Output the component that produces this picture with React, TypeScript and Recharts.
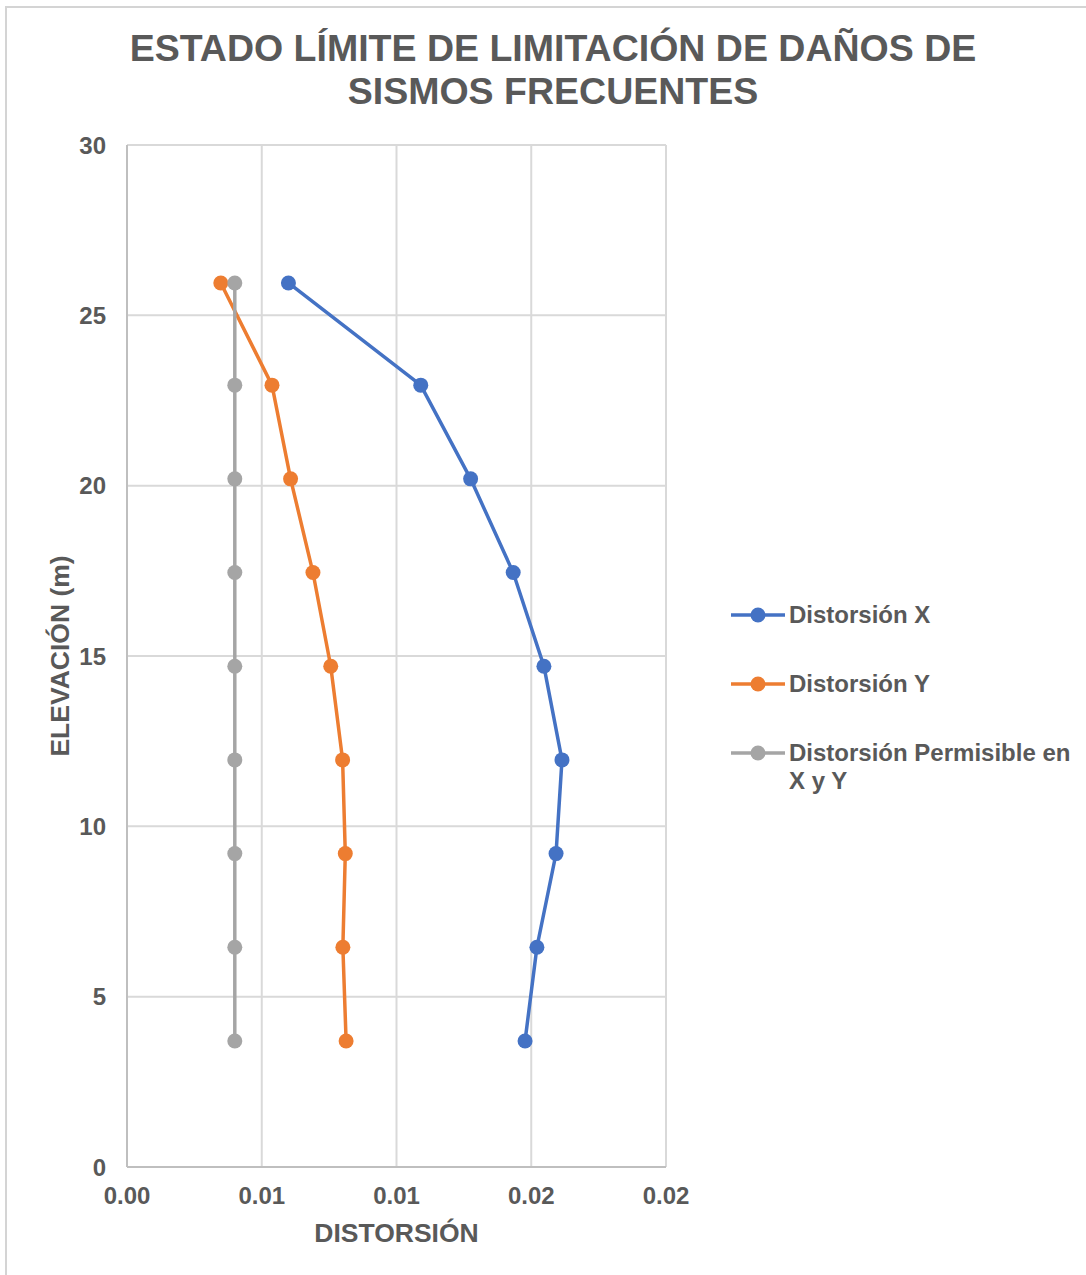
import { ScatterChart, Scatter, XAxis, YAxis, CartesianGrid } from "recharts";

const elevations = [3.7, 6.45, 9.2, 11.95, 14.7, 17.45, 20.2, 22.95, 25.95];
const distX = [0.01477, 0.01521, 0.01592, 0.01614, 0.01547, 0.01433, 0.01275, 0.0109, 0.00599];
const distY = [0.00813, 0.00801, 0.0081, 0.008, 0.00756, 0.0069, 0.00607, 0.00538, 0.00348];
const distPerm = [0.004, 0.004, 0.004, 0.004, 0.004, 0.004, 0.004, 0.004, 0.004];

const xTicks = [0, 0.005, 0.01, 0.015, 0.02];
const yTicks = [0, 5, 10, 15, 20, 25, 30];

const series = [
  { name: "Distorsión X", values: distX, color: "#4472C4" },
  { name: "Distorsión Y", values: distY, color: "#ED7D31" },
  { name: "Distorsión Permisible en X y Y", values: distPerm, color: "#A5A5A5" },
];

const FONT = '"Liberation Sans", Arial, sans-serif';
const TEXT = "#595959";

const toPoints = (values: number[]) =>
  values.map((v, i) => ({ x: v, y: elevations[i] }));

// excel style rounding (half up) for the tick labels
const fmtX = (v: number) => (Math.round(v * 100 + 1e-9) / 100).toFixed(2);

const Dot = (color: string) => (p: any) => (
  <circle cx={p.cx} cy={p.cy} r={7.5} fill={color} />
);

export default function App() {
  return (
    <div
      style={{
        position: "absolute",
        left: 0,
        top: 0,
        width: 1086,
        height: 1275,
        overflow: "hidden",
        background: "#fff",
        fontFamily: FONT,
      }}
    >
      <div
        style={{
          position: "absolute",
          left: 20,
          top: 27,
          width: 1066,
          textAlign: "center",
          fontSize: 37.5,
          lineHeight: "43px",
          fontWeight: "bold",
          color: TEXT,
        }}
      >
        ESTADO LÍMITE DE LIMITACIÓN DE DAÑOS DE
        <br />
        SISMOS FRECUENTES
      </div>

      <div style={{ position: "absolute", left: 0, top: 0 }}>
        <ScatterChart
          width={1086}
          height={1275}
          margin={{ top: 145, right: 420, bottom: 28, left: 47 }}
        >
          <CartesianGrid stroke="#d9d9d9" strokeWidth={2} />
          <XAxis
            type="number"
            dataKey="x"
            domain={[0, 0.02]}
            ticks={xTicks}
            tickFormatter={fmtX}
            height={80}
            tickLine={false}
            tickSize={0}
            tickMargin={20}
            axisLine={{ stroke: "#bfbfbf", strokeWidth: 2 }}
            tick={{ fill: TEXT, fontSize: 24, fontWeight: "bold", fontFamily: FONT }}
            label={{
              value: "DISTORSIÓN",
              position: "insideBottom",
              offset: 5,
              fill: TEXT,
              fontSize: 26.5,
              fontWeight: "bold",
              fontFamily: FONT,
            }}
          />
          <YAxis
            type="number"
            dataKey="y"
            domain={[0, 30]}
            ticks={yTicks}
            width={80}
            tickLine={false}
            tickSize={0}
            tickMargin={21}
            axisLine={{ stroke: "#bfbfbf", strokeWidth: 2 }}
            tick={{ fill: TEXT, fontSize: 24, fontWeight: "bold", fontFamily: FONT }}
            label={{
              value: "ELEVACIÓN (m)",
              angle: -90,
              position: "insideLeft",
              offset: 13,
              fill: TEXT,
              fontSize: 26.5,
              fontWeight: "bold",
              fontFamily: FONT,
              style: { textAnchor: "middle" },
            }}
          />
          {series.map((s) => (
            <Scatter
              key={s.name}
              name={s.name}
              data={toPoints(s.values)}
              fill={s.color}
              line={{ stroke: s.color, strokeWidth: 3.5 }}
              lineType="joint"
              shape={Dot(s.color)}
              isAnimationActive={false}
            />
          ))}
        </ScatterChart>
      </div>

      {series.map((s, i) => (
        <div
          key={s.name}
          style={{
            position: "absolute",
            left: 730,
            top: 601 + i * 69,
            width: 350,
            display: "flex",
            alignItems: "flex-start",
            color: TEXT,
            fontSize: 24,
            fontWeight: "bold",
            lineHeight: "28px",
          }}
        >
          <svg width={56} height={28} style={{ flex: "none" }}>
            <line x1={1} y1={14} x2={55} y2={14} stroke={s.color} strokeWidth={3.5} />
            <circle cx={28} cy={14} r={7.5} fill={s.color} />
          </svg>
          <span style={{ marginLeft: 3, width: 290 }}>{s.name}</span>
        </div>
      ))}

      {/* chart area frame */}
      <div
        style={{
          position: "absolute",
          left: 5,
          top: 6,
          width: 1090,
          height: 1275,
          border: "2px solid #d4d4d4",
          boxSizing: "border-box",
          pointerEvents: "none",
        }}
      />
    </div>
  );
}
